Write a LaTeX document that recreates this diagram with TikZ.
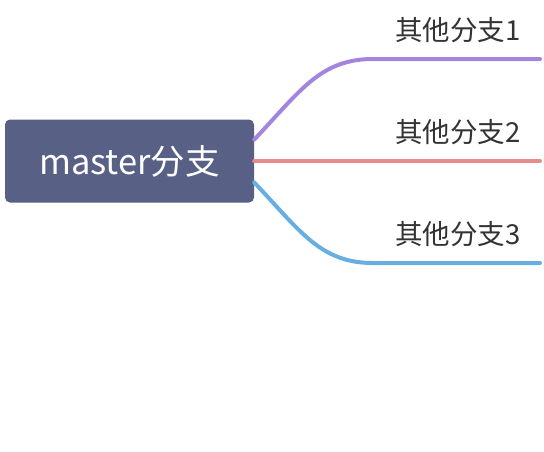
\documentclass[tikz,border=0pt]{standalone}
\usepackage{fontspec}
\setmainfont{Noto Sans CJK SC}
\definecolor{rootfill}{HTML}{596086}
\definecolor{labelgray}{HTML}{333333}
\definecolor{branchpurple}{HTML}{A385DE}
\definecolor{branchred}{HTML}{E88B8C}
\definecolor{branchblue}{HTML}{67AEE2}
\begin{document}
\begin{tikzpicture}[x=1pt,y=-1pt,
        rootstyle/.style={rectangle,rounded corners=5pt,fill=rootfill,text=white,minimum width=249pt,minimum height=83pt,inner sep=0pt,font=\fontsize{34.5}{34.5}\selectfont},
        labelstyle/.style={anchor=west,inner sep=0pt,text=labelgray,font=\fontsize{27.5}{27.5}\selectfont},
        branchline/.style={line width=4pt,line cap=round}]
        \useasboundingbox (0,0) rectangle (544,451);

        \node [rootstyle] (root) at (129.5,161) {master分支};

        \foreach \i/\c/\yy in {1/branchpurple/59,2/branchred/161,3/branchblue/263}{
            \pgfmathsetmacro{\dy}{(161-\yy)*0.21}
            \pgfmathsetmacro{\cy}{(161-\dy-\yy)*0.6}
            \coordinate (s\i) at ([yshift=\dy pt]root.east);
            \coordinate (m\i) at (373,\yy);
            \coordinate (e\i) at (540,\yy);
            \node [labelstyle] (sub\i) at (395,\yy-29) {其他分支\i};
            \draw [branchline,\c] (s\i) .. controls ([xshift=46pt,yshift=\cy pt]s\i) and ([xshift=-53pt]m\i) .. (m\i) -- (e\i);
        }
    \end{tikzpicture}
\end{document}
